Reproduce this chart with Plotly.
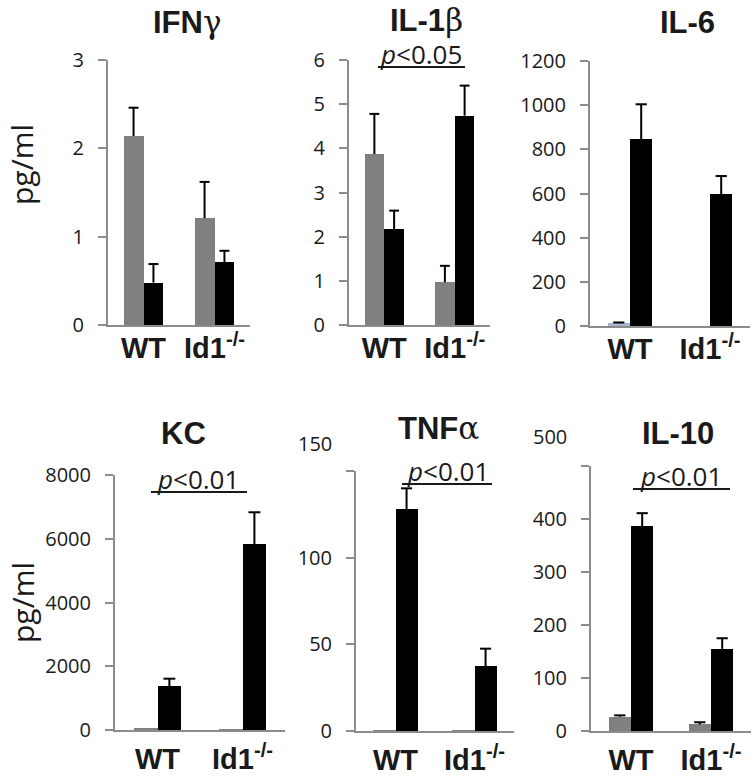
import plotly.graph_objects as go

W, H = 756, 779

groups = ["WT", "Id1<sup>-/-</sup>"]
panel_titles = [
    "<b>IFN</b><span style='font-family:DejaVu Serif'>γ</span>",
    "<b>IL-1</b><span style='font-family:DejaVu Serif'>β</span>",
    "<b>IL-6</b>",
    "<b>KC</b>",
    "<b>TNF</b><span style='font-family:DejaVu Serif'>α</span>",
    "<b>IL-10</b>",
]

# gray series (first bar of each group) and black series (second bar)
ifng_gray = [2.14, 1.21]
ifng_gray_err = [0.32, 0.41]
ifng_black = [0.48, 0.71]
ifng_black_err = [0.21, 0.13]

il1b_gray = [3.87, 0.97]
il1b_gray_err = [0.91, 0.37]
il1b_black = [2.17, 4.74]
il1b_black_err = [0.42, 0.68]

il6_gray = [12, 2]
il6_gray_err = [4, 0]
il6_black = [845, 596]
il6_black_err = [159, 83]

kc_gray = [55, 30]
kc_gray_err = [0, 0]
kc_black = [1370, 5830]
kc_black_err = [240, 1000]

tnf_gray = [0.5, 0.3]
tnf_gray_err = [0, 0]
tnf_black = [128, 37.5]
tnf_black_err = [12, 10]

il10_gray = [27, 12.5]
il10_gray_err = [2.5, 4]
il10_black = [386, 155]
il10_black_err = [25, 20]

ifng_ticks = [0, 1, 2, 3]
il1b_ticks = [0, 1, 2, 3, 4, 5, 6]
il6_ticks = [0, 200, 400, 600, 800, 1000, 1200]
kc_ticks = [0, 2000, 4000, 6000, 8000]
tnf_ticks = [0, 50, 100, 150]
il10_ticks = [0, 100, 200, 300, 400, 500]

p_labels = [None, "<i>p</i><0.05", None, "<i>p</i><0.01", "<i>p</i><0.01", "<i>p</i><0.01"]

panels = [
    (ifng_gray, ifng_gray_err, ifng_black, ifng_black_err, ifng_ticks, "#808080"),
    (il1b_gray, il1b_gray_err, il1b_black, il1b_black_err, il1b_ticks, "#808080"),
    (il6_gray, il6_gray_err, il6_black, il6_black_err, il6_ticks, "#a9b6cf"),
    (kc_gray, kc_gray_err, kc_black, kc_black_err, kc_ticks, "#808080"),
    (tnf_gray, tnf_gray_err, tnf_black, tnf_black_err, tnf_ticks, "#808080"),
    (il10_gray, il10_gray_err, il10_black, il10_black_err, il10_ticks, "#808080"),
]

# layout geometry in pixels: (x_left, x_right, y_top, y_bottom)
boxes = [
    (108, 250, 60, 325),
    (349, 490, 60, 325),
    (590, 750, 61, 326),
    (115, 285, 475, 730),
    (356, 514, 471, 731),
    (591, 751, 466, 731),
]
displaced_top = {4: 28, 5: 29}
xlabel_standoff = [-4, -4, -4, 2, 2, 2]

title_pos = [(187, 22), (427, 20), (687, 22), (183, 433), (438, 428), (678, 433)]
p_pos = [None, (421, 54), None, (198, 479), (448, 471), (681, 476)]
uline = [None, (378, 465, 67), None, (151, 247, 492), (402, 492, 484), (633, 730, 489)]

AX = "#8c8c8c"
TXT = "#1a1a1a"
BW = 0.28
CAP = 0.07

fig = go.Figure()
layout = dict(
    width=W, height=H, margin=dict(l=0, r=0, t=0, b=0, autoexpand=False),
    paper_bgcolor="white", plot_bgcolor="white", showlegend=False,
    barmode="overlay", bargap=0,
)
annotations = []
shapes = []


def px(x):
    return x / W


def py(y):
    return 1 - y / H


for i, (g, ge, b, be, ticks, gcol) in enumerate(panels):
    n = i + 1
    xa = "x" if n == 1 else f"x{n}"
    ya = "y" if n == 1 else f"y{n}"
    xl, xr, yt, yb = boxes[i]
    idx = list(range(len(groups)))
    fig.add_trace(go.Bar(x=idx, y=g, width=BW, offset=-BW, marker=dict(color=gcol, line=dict(width=0)),
                         xaxis=xa, yaxis=ya, hoverinfo="skip"))
    fig.add_trace(go.Bar(x=idx, y=b, width=BW, offset=0, marker=dict(color="#000000", line=dict(width=0)),
                         xaxis=xa, yaxis=ya, hoverinfo="skip"))
    ex, ey = [], []
    for vals, errs, sh in ((g, ge, -BW / 2), (b, be, BW / 2)):
        for k, (v, e) in enumerate(zip(vals, errs)):
            if e <= 0:
                continue
            c = k + sh
            ex += [c, c, None, c - CAP, c + CAP, None]
            ey += [v, v + e, None, v + e, v + e, None]
    if ex:
        fig.add_trace(go.Scatter(x=ex, y=ey, mode="lines", line=dict(color="black", width=2),
                                 xaxis=xa, yaxis=ya, hoverinfo="skip", cliponaxis=False))

    ticktext = [str(t) for t in ticks]
    if i in displaced_top:
        ticktext[-1] = ""
        annotations.append(dict(
            text=str(ticks[-1]), xref=f"{xa} domain", yref=ya, x=0, y=ticks[-1],
            xanchor="right", yanchor="middle", xshift=-22, yshift=displaced_top[i], showarrow=False,
            font=dict(family="Open Sans", size=20, color=TXT)))

    layout["xaxis" if n == 1 else f"xaxis{n}"] = dict(
        domain=[px(xl), px(xr)], anchor=ya, range=[-0.5, 1.5],
        tickvals=idx, ticktext=[f"<b>{t}</b>" for t in groups],
        showline=True, linecolor=AX, linewidth=2, automargin=False,
        showgrid=False, zeroline=False, ticks="", fixedrange=True,
        ticklabelstandoff=xlabel_standoff[i],
        tickfont=dict(family="Liberation Sans, Arial", size=29, color=TXT),
    )
    layout["yaxis" if n == 1 else f"yaxis{n}"] = dict(
        domain=[py(yb), py(yt)], anchor=xa, range=[0, ticks[-1]],
        tickvals=ticks, ticktext=ticktext, showline=True, linecolor=AX, linewidth=2,
        ticks="outside", ticklen=8, tickwidth=2, tickcolor=AX, ticklabelstandoff=10,
        showgrid=False, zeroline=False, fixedrange=True, automargin=False,
        tickfont=dict(family="Open Sans", size=20, color=TXT),
    )

    tx, ty = title_pos[i]
    annotations.append(dict(text=panel_titles[i], xref="paper", yref="paper", x=px(tx), y=py(ty),
                            xanchor="center", yanchor="middle", showarrow=False,
                            font=dict(family="Liberation Sans, Arial", size=31, color=TXT)))
    if p_labels[i]:
        cx, cy = p_pos[i]
        annotations.append(dict(text=p_labels[i], xref="paper", yref="paper", x=px(cx), y=py(cy),
                                xanchor="center", yanchor="middle", showarrow=False,
                                font=dict(family="Open Sans", size=26, color=TXT)))
        ux0, ux1, uy = uline[i]
        shapes.append(dict(type="line", xref="paper", yref="paper", x0=px(ux0), x1=px(ux1),
                           y0=py(uy), y1=py(uy), line=dict(color=TXT, width=2)))

for yy in (165, 603):
    annotations.append(dict(text="pg/ml", xref="paper", yref="paper", x=px(22), y=py(yy),
                            textangle=-90, xanchor="center", yanchor="middle", showarrow=False,
                            font=dict(family="Open Sans", size=30, color=TXT)))

layout["annotations"] = annotations
layout["shapes"] = shapes
fig.update_layout(**layout)
fig.write_html("out.html", config={"displayModeBar": False, "staticPlot": True},
               post_script="document.body.style.margin='0';document.body.style.padding='0';")
